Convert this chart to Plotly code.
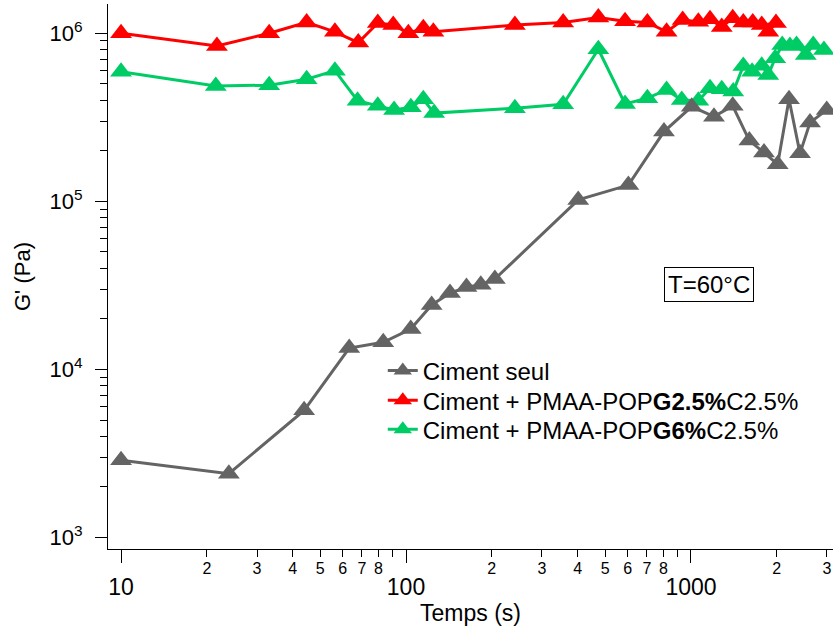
import math
import plotly.graph_objects as go

# ---- data ----
t_seul = [10, 23.9, 43.9, 63.2, 83.2, 103.9, 123, 142.7, 163, 183, 205,
          402, 603, 804, 1006, 1204, 1401, 1602, 1804, 2015, 2208, 2413, 2616, 2994]
g_seul = [2.88e3, 2.40e3, 5.71e3, 1.34e4, 1.45e4, 1.74e4, 2.42e4, 2.85e4, 3.09e4, 3.19e4, 3.45e4,
          1.02e5, 1.25e5, 2.60e5, 3.66e5, 3.19e5, 3.70e5, 2.30e5, 1.95e5, 1.66e5, 4.05e5, 1.93e5, 2.94e5, 3.50e5]

t_g25 = [10, 21.7, 33.1, 44.8, 56.3, 68, 79.6, 90.2, 101.9, 115, 124.7, 241, 356, 473, 587, 703, 821,
         935, 1061, 1166, 1282, 1401, 1526, 1647, 1771, 1867, 1987]
g_g25 = [1.00e6, 8.4e5, 1.00e6, 1.16e6, 1.02e6, 8.8e5, 1.15e6, 1.12e6, 1.00e6, 1.07e6, 1.02e6, 1.12e6,
         1.16e6, 1.24e6, 1.18e6, 1.16e6, 1.02e6,
         1.20e6, 1.17e6, 1.21e6, 1.09e6, 1.23e6, 1.16e6, 1.16e6, 1.12e6, 1.02e6, 1.15e6]

t_g6 = [10, 21.5, 33.1, 44.8, 56.3, 67.6, 79.6, 90.8, 104, 115, 125.5, 241, 356, 473, 587, 703, 821,
        928, 1061, 1166, 1282, 1407, 1526, 1638, 1771, 1867, 1975, 2090, 2224, 2346, 2528, 2685, 2928]
g_g6 = [5.91e5, 4.86e5, 4.91e5, 5.33e5, 5.99e5, 3.97e5, 3.70e5, 3.50e5, 3.63e5, 4.05e5, 3.35e5, 3.58e5,
        3.78e5, 8.03e5, 3.80e5, 4.11e5, 4.60e5,
        4.01e5, 3.97e5, 4.71e5, 4.65e5, 4.50e5, 6.39e5, 5.91e5, 6.40e5, 5.65e5, 7.10e5, 8.52e5,
        8.40e5, 8.52e5, 7.43e5, 8.50e5, 7.95e5]

names = ["Ciment seul",
         "Ciment + PMAA-POP<b>G2.5%</b>C2.5%",
         "Ciment + PMAA-POP<b>G6%</b>C2.5%"]
colors = ["#646464", "#FF0000", "#00CC66"]

x_major = [10, 100, 1000]
x_major_text = ["10", "100", "1000"]
x_minor = [20, 30, 40, 50, 60, 70, 80, 200, 300, 400, 500, 600, 700, 800, 2000, 3000]
x_minor_text = ["2", "3", "4", "5", "6", "7", "8", "2", "3", "4", "5", "6", "7", "8", "2", "3"]
x_minor_unlabelled = [90, 900]
y_major = [1e3, 1e4, 1e5, 1e6]
y_major_text = ["10<sup>3</sup>", "10<sup>4</sup>", "10<sup>5</sup>", "10<sup>6</sup>"]
y_minor = [m * d for d in (1e3, 1e4, 1e5, 1e6) for m in range(2, 10)]

x_range = [math.log10(9.0), math.log10(3150)]
y_range = [2.932, 6.174]

FONT = "Liberation Sans, Arial, sans-serif"

fig = go.Figure()
legend_ids = ["legend", "legend2", "legend3"]
series = [(t_g6, g_g6, 2), (t_g25, g_g25, 1), (t_seul, g_seul, 0)]
for tx, gy, i in series:
    fig.add_trace(go.Scatter(
        x=tx, y=gy, mode="lines+markers", name=names[i], legend=legend_ids[i],
        line=dict(color=colors[i], width=3),
        marker=dict(symbol="triangle-up", size=19, color=colors[i]),
    ))

# invisible helper trace so the minor-label axis is drawn
fig.add_trace(go.Scatter(x=x_minor, y=[None] * len(x_minor), xaxis="x2", mode="markers",
                         showlegend=False, hoverinfo="skip"))

legend_rows = [0.327, 0.272, 0.2188]
legend_common = dict(x=0.379, xanchor="left", yanchor="middle",
                     bgcolor="rgba(0,0,0,0)", font=dict(size=24, color="black"))

fig.update_layout(
    width=833, height=632,
    margin=dict(l=108, r=0, t=4, b=83),
    plot_bgcolor="white", paper_bgcolor="white",
    font=dict(family=FONT, color="black"),
    showlegend=True,
    legend=dict(y=legend_rows[0], **legend_common),
    legend2=dict(y=legend_rows[1], **legend_common),
    legend3=dict(y=legend_rows[2], **legend_common),
    xaxis=dict(type="log", range=x_range, showgrid=False, zeroline=False, automargin=False,
               showline=True, linecolor="black", linewidth=1,
               tickmode="array", tickvals=x_major, ticktext=x_major_text,
               ticks="outside", ticklen=13, tickwidth=1, tickcolor="black",
               tickfont=dict(size=23), ticklabelstandoff=4,
               title=dict(text="Temps (s)", font=dict(size=23), standoff=2)),
    xaxis2=dict(type="log", range=x_range, overlaying="x", anchor="y", side="bottom",
                showgrid=False, zeroline=False, showline=False, automargin=False,
                tickmode="array", tickvals=x_minor, ticktext=x_minor_text,
                ticks="outside", ticklen=7, tickwidth=1, tickcolor="black",
                tickfont=dict(size=16), ticklabelstandoff=-2,
                minor=dict(tickmode="array", tickvals=x_minor_unlabelled, ticks="outside",
                           ticklen=7, tickwidth=1, tickcolor="black", showgrid=False)),
    yaxis=dict(type="log", range=y_range, showgrid=False, zeroline=False, automargin=False,
               showline=True, linecolor="black", linewidth=1,
               tickmode="array", tickvals=y_major, ticktext=y_major_text,
               ticks="outside", ticklen=12, tickwidth=1, tickcolor="black",
               tickfont=dict(size=22), ticklabelstandoff=8,
               minor=dict(tickmode="array", tickvals=y_minor, ticks="outside",
                          ticklen=7, tickwidth=1, tickcolor="black", showgrid=False),
               title=dict(text="G' (Pa)", font=dict(size=22), standoff=12)),
    annotations=[dict(text="T=60°C", xref="paper", yref="paper", x=0.829, y=0.4847,
                      xanchor="center", yanchor="middle", showarrow=False,
                      font=dict(size=24, color="black"),
                      bordercolor="black", borderwidth=1, borderpad=3)],
)

fig.write_html("out.html", config={"displayModeBar": False},
               post_script="document.body.style.margin='0px';")
